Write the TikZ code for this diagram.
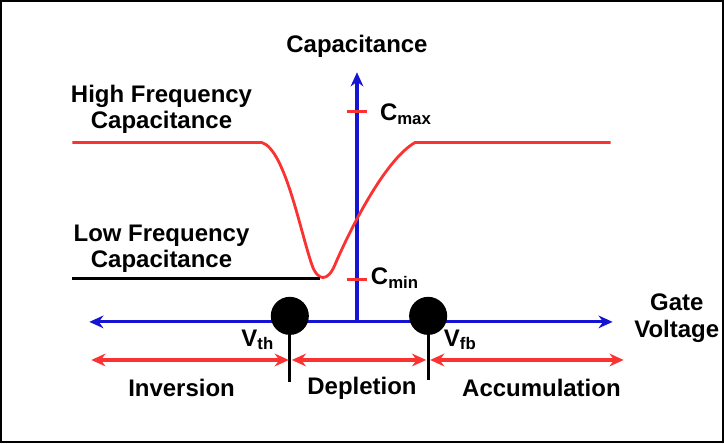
\documentclass[tikz,border=0pt]{standalone}
\usepackage{fontspec}
\setmainfont{Liberation Sans}
\usetikzlibrary{arrows.meta}
\definecolor{axisblue}{RGB}{20,20,210}
\definecolor{curvered}{RGB}{250,50,50}
\tikzset{
  lbl/.style={font=\bfseries\fontsize{17pt}{19pt}\selectfont, align=center},
  axis/.style={axisblue, line width=2.2pt, -{Stealth[length=10pt,width=9pt]}},
  region/.style={curvered, line width=2.2pt, {Stealth[length=10pt,width=9pt]}-{Stealth[length=10pt,width=9pt]}},
  volt/.style={circle, fill=black, minimum size=27pt, inner sep=0pt}
}
\begin{document}
\begin{tikzpicture}[x=0.025cm, y=-0.025cm]
  \draw[line width=1.6pt] (2,2) rectangle (722,442);
  % axes
  \coordinate (origin) at (357,322);
  \coordinate (left) at (90,322);
  \coordinate (right) at (612,322);
  \coordinate (top) at (357,73);
  \draw[axis] (origin) -- (right);
  \draw[axis] (origin) -- (left);
  \draw[axis] (origin) -- (top);
  \node[lbl] (cap) at (357,47) {Capacitance};
  \node[lbl] (gate) at (676,318) {Gate\\Voltage};
  % ticks
  \coordinate (cmax) at (357,112);
  \coordinate (cmin) at (357,280);
  \draw[curvered, line width=2.2pt] ([xshift=-7]cmax) -- ([xshift=7]cmax);
  \draw[curvered, line width=2.2pt] ([xshift=-7]cmin) -- ([xshift=7]cmin);
  \node[lbl, anchor=west] (cmaxl) at (375,115) {C\textsubscript{max}};
  \node[lbl, anchor=west] (cminl) at (366,278) {C\textsubscript{min}};
  % curves
  \draw[curvered, line width=2pt] (73,143) -- (262,143)
    .. controls (285,150) and (300,230) .. (312,265)
    .. controls (318,282) and (328,282) .. (335,265)
    .. controls (350,230) and (385,160) .. (415,143) -- (610,143);
  \draw[line width=2pt] (73,279) -- (320,279);
  \node[lbl] (hf) at (162,110) {High Frequency\\Capacitance};
  \node[lbl] (lf) at (162,249) {Low Frequency\\Capacitance};
  % voltages
  \node[volt] (vth) at (290,316) {};
  \node[volt] (vfb) at (428,316) {};
  \draw[line width=2pt] (vth.center) -- (290,382);
  \draw[line width=2pt] (vfb.center) -- (428,380);
  \node[lbl] (vthl) at (258,340) {V\textsubscript{th}};
  \node[lbl] (vfbl) at (460,340) {V\textsubscript{fb}};
  % regions
  \coordinate (r0) at (92,360);
  \coordinate (r1) at (289,360);
  \coordinate (r2) at (292,360);
  \coordinate (r3) at (426,360);
  \coordinate (r4) at (430,360);
  \coordinate (r5) at (623,360);
  \draw[region] (r0) -- (r1);
  \draw[region] (r2) -- (r3);
  \draw[region] (r4) -- (r5);
  \node[lbl] (inv) at (182,388) {Inversion};
  \node[lbl] (dep) at (362,388) {Depletion};
  \node[lbl] (acc) at (541,388) {Accumulation};
\end{tikzpicture}
\end{document}
